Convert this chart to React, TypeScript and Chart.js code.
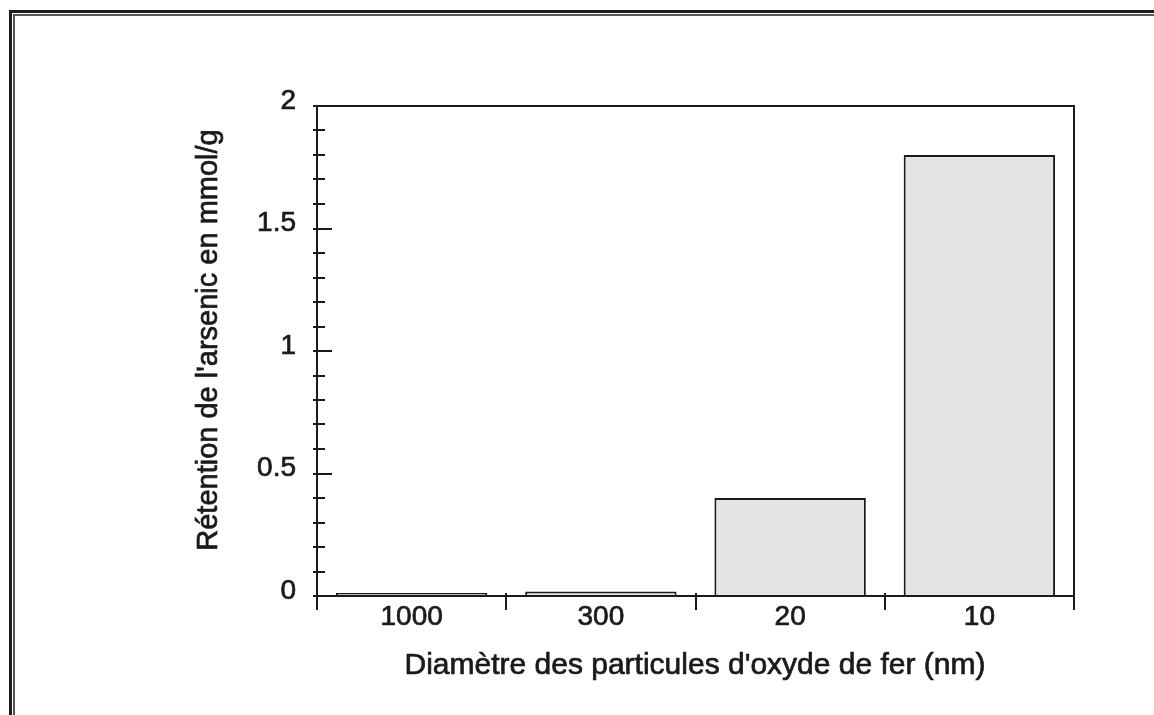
import React, { useEffect, useRef } from "react";
import { Chart, registerables } from "chart.js";

Chart.register(...registerables);

const categories = ["1000", "300", "20", "10"];
const retention = [0.012, 0.018, 0.4, 1.8];
const yTickValues = [0, 0.5, 1, 1.5, 2];
const yMin = 0;
const yMax = 2;
const minorStep = 0.1;
const xTitle = "Diamètre des particules d'oxyde de fer (nm)";
const yTitle = "Rétention de l'arsenic en mmol/g";

const FONT = "'Liberation Sans', Arial, Helvetica, sans-serif";
const INK = "#1a1a1a";
const TEXT_STROKE = 0.7;

const decor = {
  id: "decor",
  afterDatasetsDraw(chart: any) {
    const ctx = chart.ctx as CanvasRenderingContext2D;
    const { left, right, top, bottom } = chart.chartArea;
    const xs = chart.scales.x;
    const ys = chart.scales.y;
    const W = chart.width;
    const H = chart.height;
    ctx.save();
    // outer frame (top & left only)
    ctx.fillStyle = "#1c1c1c";
    ctx.fillRect(9, 10, W - 9, 3);
    ctx.fillRect(9, 10, 3, H - 10);
    ctx.fillStyle = "#555555";
    ctx.fillRect(13, 14, W - 13, 2);
    ctx.fillRect(13, 14, 2, H - 14);

    // axis box
    ctx.strokeStyle = INK;
    ctx.lineWidth = 2;
    ctx.beginPath();
    ctx.moveTo(left, bottom + 14);
    ctx.lineTo(left, top);
    ctx.lineTo(right, top);
    ctx.lineTo(right, bottom + 14);
    ctx.moveTo(left, bottom);
    ctx.lineTo(right, bottom);
    for (let i = 1; i < categories.length; i++) {
      const xp = Math.round((xs.getPixelForValue(i - 1) + xs.getPixelForValue(i)) / 2);
      ctx.moveTo(xp, bottom - 3);
      ctx.lineTo(xp, bottom + 14);
    }
    const n = Math.round((yMax - yMin) / minorStep);
    for (let i = 0; i <= n; i++) {
      const v = yMin + i * minorStep;
      const yp = Math.round(ys.getPixelForValue(v));
      const major = yTickValues.some((t) => Math.abs(t - v) < 1e-9);
      ctx.moveTo(left - 4, yp);
      ctx.lineTo(left + (major ? 15 : 8), yp);
    }
    ctx.stroke();

    // titles
    ctx.fillStyle = INK;
    ctx.strokeStyle = INK;
    ctx.lineWidth = TEXT_STROKE;
    ctx.font = `30px ${FONT}`;
    ctx.textAlign = "center";
    ctx.textBaseline = "alphabetic";
    ctx.fillText(xTitle, 695, 674);
    ctx.strokeText(xTitle, 695, 674);

    ctx.font = `29px ${FONT}`;
    ctx.translate(217, 340);
    ctx.rotate(-Math.PI / 2);
    ctx.fillText(yTitle, 0, 0);
    ctx.strokeText(yTitle, 0, 0);
    ctx.restore();
  },
};

export default function App() {
  const ref = useRef<HTMLCanvasElement | null>(null);

  useEffect(() => {
    if (!ref.current) return;
    const chart = new Chart(ref.current, {
      type: "bar",
      data: {
        labels: categories,
        datasets: [
          {
            data: retention,
            backgroundColor: "#e3e5e4",
            borderColor: INK,
            borderWidth: 2,
            borderSkipped: "bottom",
            categoryPercentage: 1,
            barPercentage: 0.8,
          },
        ],
      },
      options: {
        animation: false,
        responsive: true,
        maintainAspectRatio: false,
        layout: { padding: { left: 0, top: 106, right: 80, bottom: 0 } },
        plugins: {
          legend: { display: false },
          tooltip: { enabled: false },
          title: { display: false },
        },
        scales: {
          x: {
            type: "category",
            grid: { display: false, drawTicks: false },
            border: { display: false },
            ticks: {
              color: INK,
              textStrokeColor: INK,
              textStrokeWidth: TEXT_STROKE,
              font: { family: FONT, size: 28 },
              padding: 4,
              maxRotation: 0,
            },
            afterFit: (s: any) => {
              s.height = 119;
            },
          },
          y: {
            min: yMin,
            max: yMax,
            grid: { display: false, drawTicks: false },
            border: { display: false },
            ticks: {
              stepSize: 0.5,
              color: INK,
              textStrokeColor: INK,
              textStrokeWidth: TEXT_STROKE,
              font: { family: FONT, size: 28 },
              padding: 21,
              labelOffset: -5,
              callback: (v: any) => String(Number(v)),
            },
            afterFit: (s: any) => {
              s.width = 317;
            },
          },
        },
      },
      plugins: [decor],
    });
    return () => chart.destroy();
  }, []);

  return (
    <div style={{ position: "fixed", left: 0, top: 0, width: 1154, height: 715, background: "#ffffff" }}>
      <canvas ref={ref} />
    </div>
  );
}
